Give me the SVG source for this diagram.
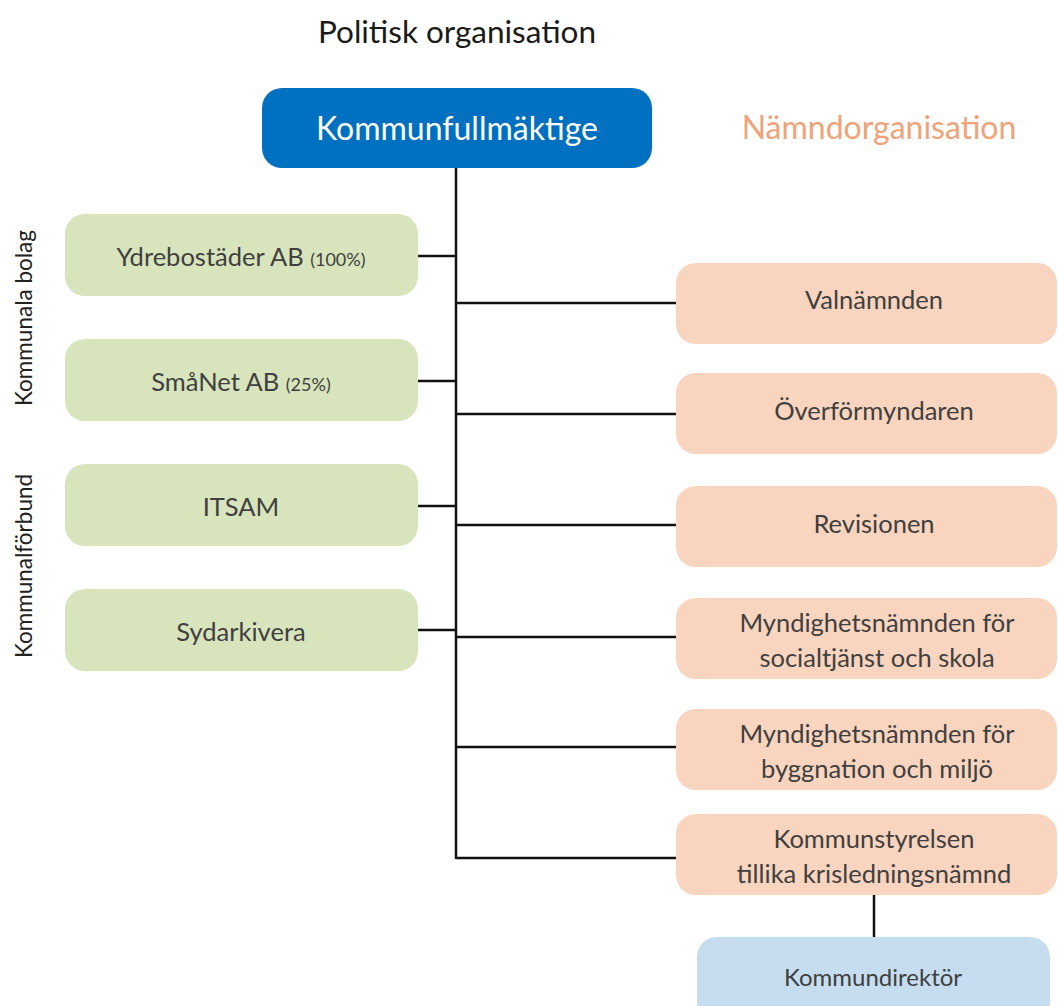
<svg xmlns="http://www.w3.org/2000/svg" width="1058" height="1006" viewBox="0 0 1058 1006">
<style>
text{font-family:Lato,"Open Sans","Liberation Sans",sans-serif;text-anchor:middle}
.g{fill:#d8e4bc}
.p{fill:#f9d4be}
.t{fill:#404040;font-size:25.5px}
.s{font-size:18px}
.side{fill:#222;font-size:22.5px}
.c line{stroke:#111;stroke-width:2.5}
</style>
<rect width="1058" height="1006" fill="#fff"/>
<text x="457" y="43" style="font-size:31.5px;fill:#1a1a1a">Politisk organisation</text>
<text x="879" y="139" style="font-size:32px;fill:#f0a378">Nämndorganisation</text>
<text transform="translate(32,318) rotate(-90)" class="side">Kommunala bolag</text>
<text transform="translate(32,566) rotate(-90)" class="side">Kommunalförbund</text>
<g class="c">
<line x1="456" y1="168" x2="456" y2="859"/>
<line x1="418" y1="256" x2="456" y2="256"/>
<line x1="418" y1="381" x2="456" y2="381"/>
<line x1="418" y1="506" x2="456" y2="506"/>
<line x1="418" y1="630" x2="456" y2="630"/>
<line x1="456" y1="303" x2="676" y2="303"/>
<line x1="456" y1="414" x2="676" y2="414"/>
<line x1="456" y1="525" x2="676" y2="525"/>
<line x1="456" y1="637" x2="676" y2="637"/>
<line x1="456" y1="747" x2="676" y2="747"/>
<line x1="456" y1="858" x2="676" y2="858"/>
<line x1="874" y1="895" x2="874" y2="937"/>
</g>
<g id="kf"><rect x="262" y="88" width="390" height="80" rx="20" fill="#0070c0"/><text x="457" y="140" style="font-size:32px;fill:#fff">Kommunfullmäktige</text></g>
<g id="ydre"><rect class="g" x="65" y="214" width="353" height="82" rx="20"/><text class="t" x="241" y="266">Ydrebostäder AB <tspan class="s">(100%)</tspan></text></g>
<g id="smanet"><rect class="g" x="65" y="339" width="353" height="82" rx="20"/><text class="t" x="241" y="391">SmåNet AB <tspan class="s">(25%)</tspan></text></g>
<g id="itsam"><rect class="g" x="65" y="464" width="353" height="82" rx="20"/><text class="t" x="241" y="516">ITSAM</text></g>
<g id="syd"><rect class="g" x="65" y="589" width="353" height="82" rx="20"/><text class="t" x="241" y="641">Sydarkivera</text></g>
<g id="val"><rect class="p" x="676" y="263" width="381" height="81" rx="20"/><text class="t" x="874" y="309">Valnämnden</text></g>
<g id="over"><rect class="p" x="676" y="373" width="381" height="81" rx="20"/><text class="t" x="874" y="420">Överförmyndaren</text></g>
<g id="rev"><rect class="p" x="676" y="486" width="381" height="81" rx="20"/><text class="t" x="874" y="533">Revisionen</text></g>
<g id="mns"><rect class="p" x="676" y="598" width="381" height="81" rx="20"/><text class="t" x="877" y="632">Myndighetsnämnden för</text><text class="t" x="877" y="667">socialtjänst och skola</text></g>
<g id="mnb"><rect class="p" x="676" y="709" width="381" height="81" rx="20"/><text class="t" x="877" y="743">Myndighetsnämnden för</text><text class="t" x="877" y="778">byggnation och miljö</text></g>
<g id="ks"><rect class="p" x="676" y="814" width="381" height="81" rx="20"/><text class="t" x="874" y="848">Kommunstyrelsen</text><text class="t" x="874" y="883">tillika krisledningsnämnd</text></g>
<g id="kd"><rect x="697" y="937" width="353" height="85" rx="20" fill="#c6ddf0"/><text class="t" x="873" y="986" style="font-size:24px">Kommundirektör</text></g>
</svg>
